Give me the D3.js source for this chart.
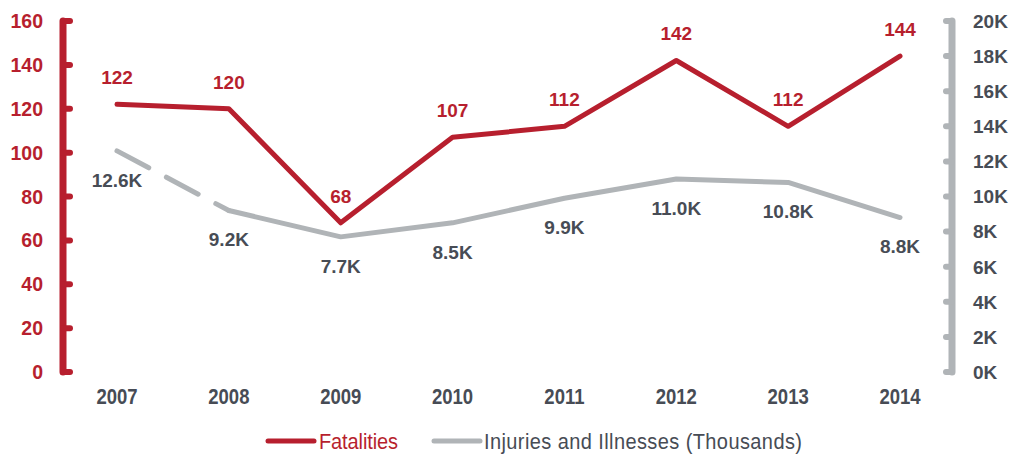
<!DOCTYPE html>
<html><head><meta charset="utf-8">
<script src="https://cdn.jsdelivr.net/npm/d3@7"></script>
<style>body{margin:0;background:#fff}svg{display:block;font-family:"Liberation Sans",Arial,sans-serif}</style>
</head><body><svg id="c" width="1010" height="456"></svg>
<script>
const years = ["2007","2008","2009","2010","2011","2012","2013","2014"];
const fatalities = [122,120,68,107,112,142,112,144];
const injuries = [12.6,9.2,7.7,8.5,9.9,11.0,10.8,8.8];
const leftTicks = [0,20,40,60,80,100,120,140,160];
const rightTicks = [0,2,4,6,8,10,12,14,16,18,20];

const RED = "#B71F2E", GRAY = "#B0B4B7", TXT = "#474C55";
const svg = d3.select("#c");
const x = d3.scalePoint().domain(years).range([117,900]);
const yL = d3.scaleLinear().domain([0,160]).range([372,21]);
const yR = d3.scaleLinear().domain([0,20]).range([372,21]);

// left axis
const gL = svg.append("g");
gL.append("line").attr("x1",63).attr("x2",63).attr("y1",yL(0)).attr("y2",yL(160))
  .attr("stroke",RED).attr("stroke-width",7).attr("stroke-linecap","round");
leftTicks.forEach(t=>{
  gL.append("line").attr("x1",63).attr("x2",70).attr("y1",yL(t)).attr("y2",yL(t))
    .attr("stroke",RED).attr("stroke-width",6).attr("stroke-linecap","round");
  gL.append("text").attr("x",43).attr("y",yL(t)).attr("dy","0.36em").attr("text-anchor","end")
    .attr("fill",RED).attr("font-weight","bold").attr("font-size",19.5).text(t);
});
// right axis
const gR = svg.append("g");
gR.append("line").attr("x1",952).attr("x2",952).attr("y1",yR(0)).attr("y2",yR(20))
  .attr("stroke",GRAY).attr("stroke-width",7).attr("stroke-linecap","round");
rightTicks.forEach(t=>{
  gR.append("line").attr("x1",952).attr("x2",946).attr("y1",yR(t)).attr("y2",yR(t))
    .attr("stroke",GRAY).attr("stroke-width",6).attr("stroke-linecap","round");
  gR.append("text").attr("x",973).attr("y",yR(t)).attr("dy","0.36em").attr("text-anchor","start")
    .attr("fill",TXT).attr("font-weight","bold").attr("font-size",19).text(t+"K");
});
// x labels (slightly tall, narrow look)
years.forEach(yr=>{
  svg.append("text").attr("transform",`translate(${x(yr)},396) scale(1,1.2)`)
    .attr("dy","0.36em").attr("text-anchor","middle")
    .attr("fill",TXT).attr("font-weight","bold").attr("font-size",18.5).text(yr);
});

// injuries line: first segment dashed
const injPts = injuries.map((v,i)=>[x(years[i]),yR(v)]);
svg.append("path").attr("d",d3.line()(injPts.slice(0,2))).attr("fill","none")
  .attr("stroke",GRAY).attr("stroke-width",5).attr("stroke-linecap","round")
  .attr("stroke-dasharray","36 20");
svg.append("path").attr("d",d3.line()(injPts.slice(1))).attr("fill","none")
  .attr("stroke",GRAY).attr("stroke-width",5).attr("stroke-linecap","round").attr("stroke-linejoin","round");

// fatalities line
const lineL = d3.line().x((d,i)=>x(years[i])).y(d=>yL(d));
svg.append("path").attr("d",lineL(fatalities)).attr("fill","none")
  .attr("stroke",RED).attr("stroke-width",5).attr("stroke-linecap","round").attr("stroke-linejoin","round");

// labels
fatalities.forEach((v,i)=>{
  svg.append("text").attr("x",x(years[i])).attr("y",yL(v)-27).attr("dy","0.36em")
    .attr("text-anchor","middle").attr("fill",RED).attr("font-weight","bold").attr("font-size",19).text(v);
});
injuries.forEach((v,i)=>{
  svg.append("text").attr("x",x(years[i])).attr("y",yR(v)+29).attr("dy","0.36em")
    .attr("text-anchor","middle").attr("fill",TXT).attr("font-weight","bold").attr("font-size",19).text(v.toFixed(1)+"K");
});

// legend
const lg = svg.append("g");
lg.append("line").attr("x1",268).attr("x2",314).attr("y1",441).attr("y2",441)
  .attr("stroke",RED).attr("stroke-width",5).attr("stroke-linecap","round");
lg.append("text").attr("transform","translate(319,441) scale(1,1.08)").attr("dy","0.36em")
  .attr("fill",RED).attr("font-size",20).attr("textLength",79).text("Fatalities");
lg.append("line").attr("x1",434).attr("x2",480).attr("y1",441).attr("y2",441)
  .attr("stroke",GRAY).attr("stroke-width",5).attr("stroke-linecap","round");
lg.append("text").attr("transform","translate(484,441) scale(1,1.08)").attr("dy","0.36em")
  .attr("fill",TXT).attr("font-size",20).attr("textLength",318).text("Injuries and Illnesses (Thousands)");
</script></body></html>
